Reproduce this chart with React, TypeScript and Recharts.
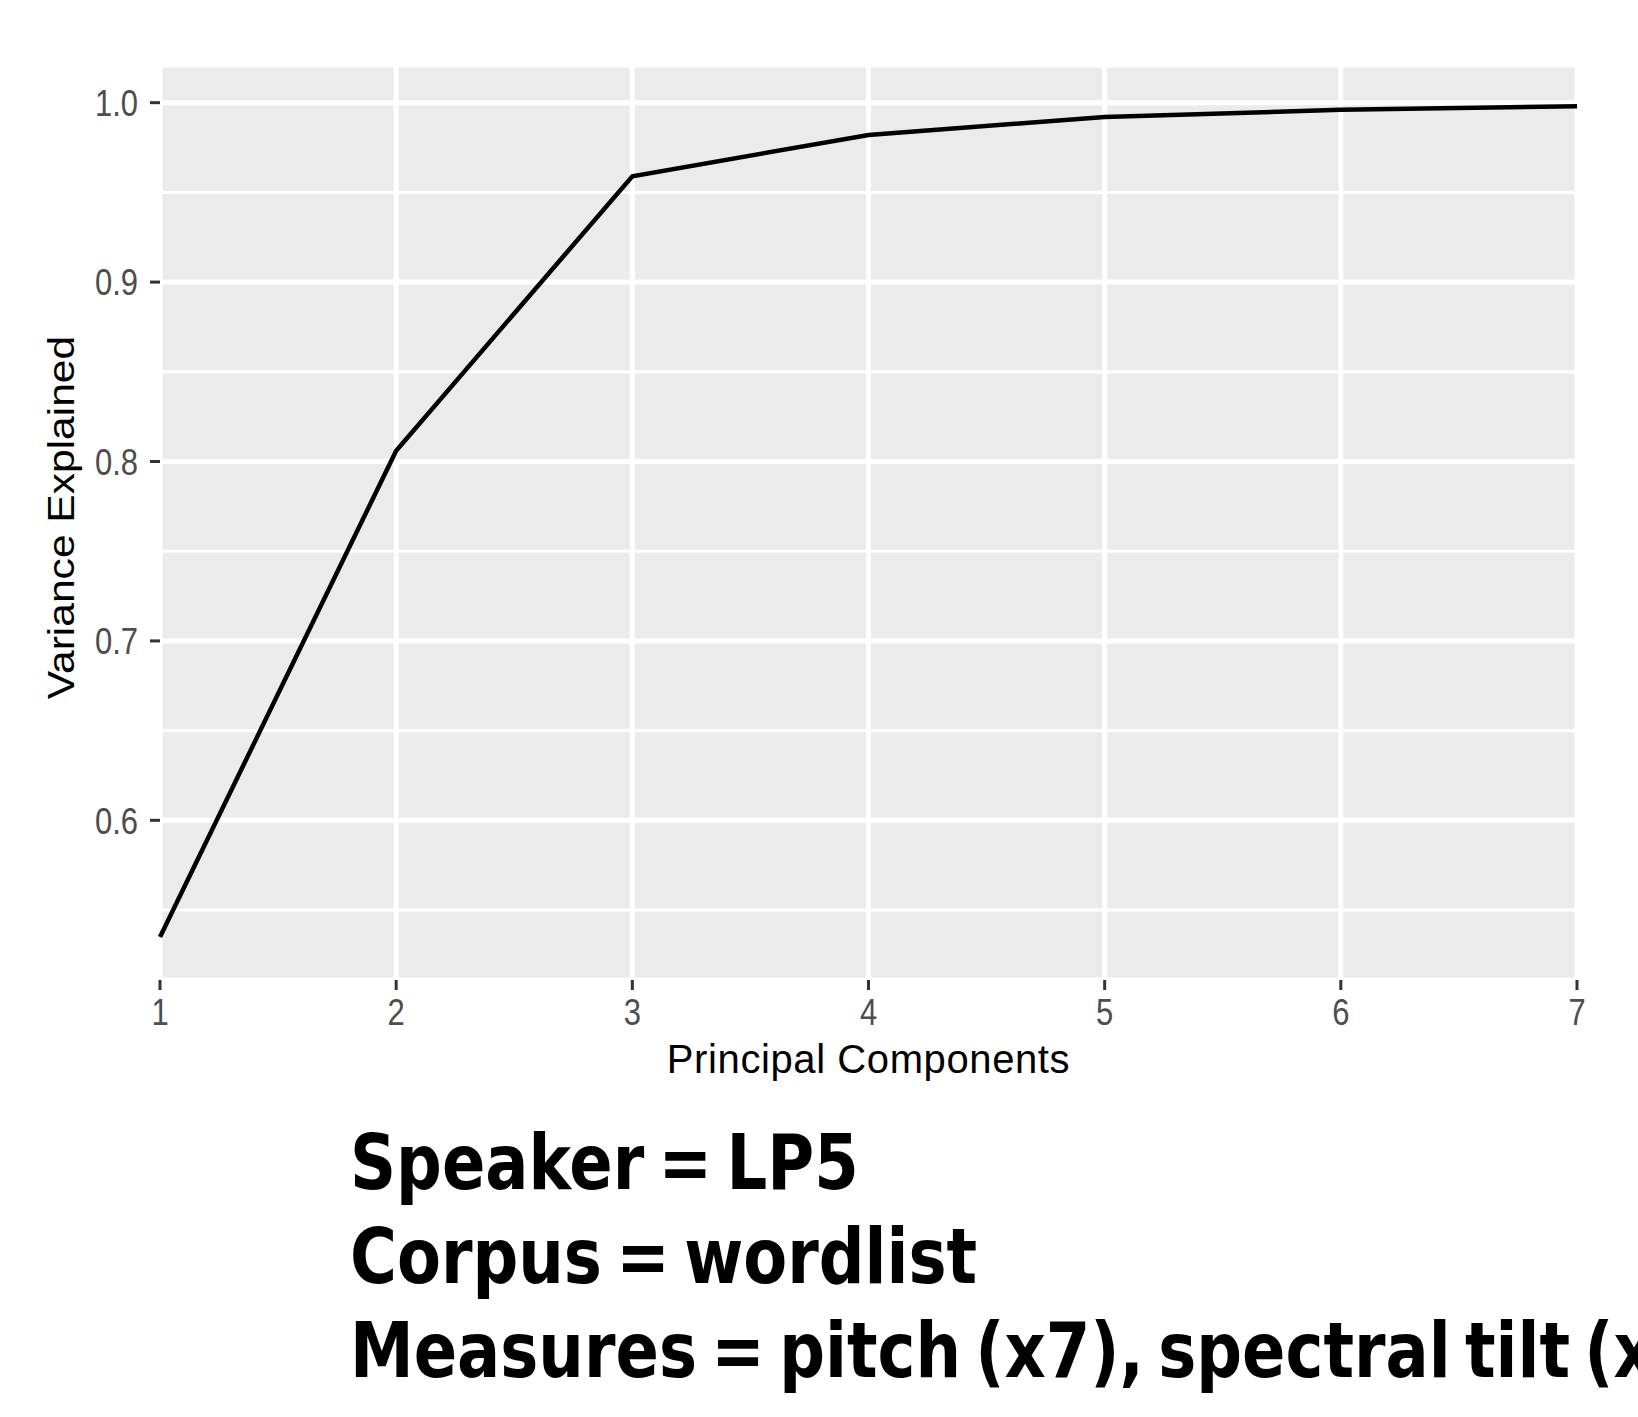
import React from 'react'
import {
  LineChart,
  Line,
  XAxis,
  YAxis,
  CartesianGrid,
  ReferenceLine,
  Label,
} from 'recharts'

const components = [1, 2, 3, 4, 5, 6, 7]
const varianceExplained = [0.535, 0.806, 0.959, 0.982, 0.992, 0.996, 0.998]
const yTicks = [0.6, 0.7, 0.8, 0.9, 1.0]
const yMinorTicks = [0.55, 0.65, 0.75, 0.85, 0.95]
const captionLines = [
  'Speaker = LP5',
  'Corpus = wordlist',
  'Measures = pitch (x7), spectral tilt (x7), duration (x7)',
]

const chartData = components.map((pc, i) => ({ pc, value: varianceExplained[i] }))

const FONT = '"Liberation Sans", Arial, sans-serif'
// the source image is stretched vertically, so text gets a scaleY
const STRETCH = 1.2

function XTick({ x, y, payload }: any) {
  return (
    <g transform={`translate(${x},${y}) scale(1,${STRETCH})`}>
      <text textAnchor="middle" dy="0.72em" fontSize={31} fill="#4d4d4d" fontFamily={FONT}>
        {payload.value}
      </text>
    </g>
  )
}

function YTick({ x, y, payload }: any) {
  return (
    <g transform={`translate(${x},${y}) scale(1,${STRETCH})`}>
      <text textAnchor="end" dy="0.36em" fontSize={31} fill="#4d4d4d" fontFamily={FONT}>
        {Number(payload.value).toFixed(1)}
      </text>
    </g>
  )
}

export default function App() {
  return (
    <div style={{ position: 'relative', width: 1638, height: 1417, overflow: 'hidden', background: '#fff' }}>
      <style>{'body{margin:0}'}</style>
      <LineChart
        width={1638}
        height={1100}
        data={chartData}
        margin={{ top: 65, right: 61, left: 0, bottom: 20 }}
      >
        <CartesianGrid fill="#ebebeb" stroke="#ffffff" strokeWidth={5} />
        {yMinorTicks.map((v) => (
          <ReferenceLine key={v} y={v} stroke="#ffffff" strokeWidth={3} />
        ))}
        <XAxis
          dataKey="pc"
          type="number"
          domain={[1, 7]}
          ticks={components}
          height={100}
          axisLine={false}
          tickLine={{ stroke: '#333333', strokeWidth: 3 }}
          tickSize={10}
          tickMargin={8}
          tick={<XTick />}
          interval={0}
        >
          <Label
            content={({ viewBox }: any) => (
              <text
                x={viewBox.x + viewBox.width / 2}
                y={1073}
                textAnchor="middle"
                fontSize={40}
                letterSpacing={0.6}
                fill="#000"
                fontFamily={FONT}
              >
                Principal Components
              </text>
            )}
          />
        </XAxis>
        <YAxis
          type="number"
          domain={[0.511, 1.021]}
          ticks={yTicks}
          width={160}
          axisLine={false}
          tickLine={{ stroke: '#333333', strokeWidth: 3 }}
          tickSize={10}
          tickMargin={12}
          tick={<YTick />}
          interval={0}
        >
          <Label
            content={({ viewBox }: any) => (
              <text
                transform={`translate(74,${viewBox.y + viewBox.height / 2 - 5}) rotate(-90) scale(1.15,1)`}
                textAnchor="middle"
                fontSize={37}
                fill="#000"
                fontFamily={FONT}
              >
                Variance Explained
              </text>
            )}
          />
        </YAxis>
        <Line
          type="linear"
          dataKey="value"
          stroke="#000000"
          strokeWidth={4.5}
          dot={false}
          isAnimationActive={false}
        />
      </LineChart>
      <svg
        width={1638}
        height={1417}
        style={{ position: 'absolute', left: 0, top: 0, pointerEvents: 'none' }}
      >
        {captionLines.map((line, i) => (
          <text
            key={line}
            transform={`translate(350,${1189 + i * 94}) scale(1,${STRETCH})`}
            fontSize={64}
            wordSpacing={-8}
            fontWeight="bold"
            fontFamily='"DejaVu Sans", sans-serif'
            fill="#000"
          >
            {line}
          </text>
        ))}
      </svg>
    </div>
  )
}
